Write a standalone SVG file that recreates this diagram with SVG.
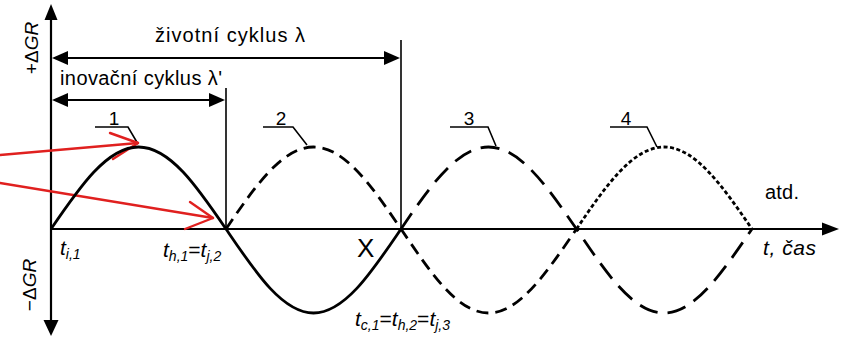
<svg xmlns="http://www.w3.org/2000/svg" width="843" height="338" viewBox="0 0 843 338">
<defs>
<style>
.txt{font-family:"Liberation Sans",Arial,sans-serif;fill:#000}
.it{font-style:italic}
.sub{font-size:14px}
.ax{stroke:#000;stroke-width:2.2;fill:none}
.thin{stroke:#000;stroke-width:1.6;fill:none}
.c1{stroke:#000;stroke-width:2.8;fill:none}
.c2{stroke:#000;stroke-width:2.8;fill:none;stroke-dasharray:12 7}
.c3{stroke:#000;stroke-width:2.8;fill:none;stroke-dasharray:19 10}
.c4{stroke:#000;stroke-width:2.8;fill:none;stroke-dasharray:4 2.5}
.red{stroke:#e0201f;stroke-width:2.4;fill:none;stroke-linecap:round;stroke-linejoin:round}
</style>
</defs>
<rect width="843" height="338" fill="#fff"/>

<g id="axes">
<line class="ax" x1="51" y1="18" x2="51" y2="322"/>
<polygon points="51,4 44.5,20 57.5,20" fill="#000"/>
<polygon points="51,336 43.5,320 58.5,320" fill="#000"/>
<line class="ax" x1="51" y1="229" x2="824" y2="229"/>
<polygon points="839,229 822,222.5 822,235.5" fill="#000"/>
<text class="txt" font-size="19" transform="translate(38,48) rotate(-90)" text-anchor="middle">+Δ<tspan class="it">GR</tspan></text>
<text class="txt" font-size="19" transform="translate(36,285) rotate(-90)" text-anchor="middle">−Δ<tspan class="it">GR</tspan></text>
<text class="txt it" font-size="21" x="763" y="255" textLength="53" lengthAdjust="spacing">t, čas</text>
<text class="txt" font-size="20" x="765" y="199" textLength="34" lengthAdjust="spacing">atd.</text>
</g>

<g id="connectors">
<line class="thin" x1="226" y1="88" x2="226" y2="229"/>
<line class="thin" x1="401" y1="40" x2="401" y2="229"/>
<line class="ax" x1="62" y1="58" x2="390" y2="58"/>
<polygon points="52,58 68,51 68,65" fill="#000"/>
<polygon points="400,58 384,51 384,65" fill="#000"/>
<line class="ax" x1="62" y1="100" x2="214" y2="100"/>
<polygon points="52,100 68,93 68,107" fill="#000"/>
<polygon points="225,100 209,93 209,107" fill="#000"/>
<polyline class="thin" points="95,127 128,127 138,144"/>
<polyline class="thin" points="263,127 293,127 307,145"/>
<polyline class="thin" points="450,127 488,127 496,146"/>
<polyline class="thin" points="610,127 647,127 657,147"/>
<polyline class="red" points="0,155 138,143"/>
<polyline class="red" points="110,133 138,143 113,159"/>
<polyline class="red" points="0,183 213,218"/>
<polyline class="red" points="190,202 213,218 185,229"/>
</g>

<g id="curve1">
<path class="c1" d="M51,229 C79.6,187 107,147 138.5,147 C170,147 197.4,187 226,229 C254.6,271 282,313 313.5,313 C345,313 372.4,271 401,229"/>
<text class="txt" font-size="19" x="114" y="125" text-anchor="middle">1</text>
</g>

<g id="curve2">
<path class="c2" d="M226,229 C254.6,187 282,147 313.5,147 C345,147 372.4,187 401,229 C429.6,271 457,313 488.5,313 C520,313 547.4,271 576.5,229"/>
<text class="txt" font-size="19" x="281" y="125" text-anchor="middle">2</text>
</g>

<g id="curve3">
<path class="c3" d="M401,229 C429.6,187 457,147 488.5,147 C520,147 547.4,187 576.5,229 C605,271 632.5,313 664,313 C695.5,313 723,271 752,229"/>
<text class="txt" font-size="19" x="469" y="125" text-anchor="middle">3</text>
</g>

<g id="curve4">
<path class="c4" d="M576.5,229 C605,187 632.5,147 664,147 C695.5,147 723,187 752,229"/>
<text class="txt" font-size="19" x="626" y="125" text-anchor="middle">4</text>
</g>

<g id="labels">
<text class="txt" font-size="20" x="155" y="42" textLength="150" lengthAdjust="spacing">životní cyklus λ</text>
<text class="txt" font-size="20" x="60" y="85" textLength="162" lengthAdjust="spacing">inovační cyklus λ'</text>
<text class="txt" font-size="26" x="357" y="257">X</text>
<text class="txt it" font-size="21" x="60" y="255">t<tspan class="sub" dy="4">i,1</tspan></text>
<text class="txt it" font-size="21" x="163" y="257">t<tspan class="sub" dy="4">h,1</tspan><tspan dy="-4" font-style="normal">=</tspan>t<tspan class="sub" dy="4">j,2</tspan></text>
<text class="txt it" font-size="21" x="355" y="326">t<tspan class="sub" dy="4">c,1</tspan><tspan dy="-4" font-style="normal">=</tspan>t<tspan class="sub" dy="4">h,2</tspan><tspan dy="-4" font-style="normal">=</tspan>t<tspan class="sub" dy="4">j,3</tspan></text>
</g>
</svg>
